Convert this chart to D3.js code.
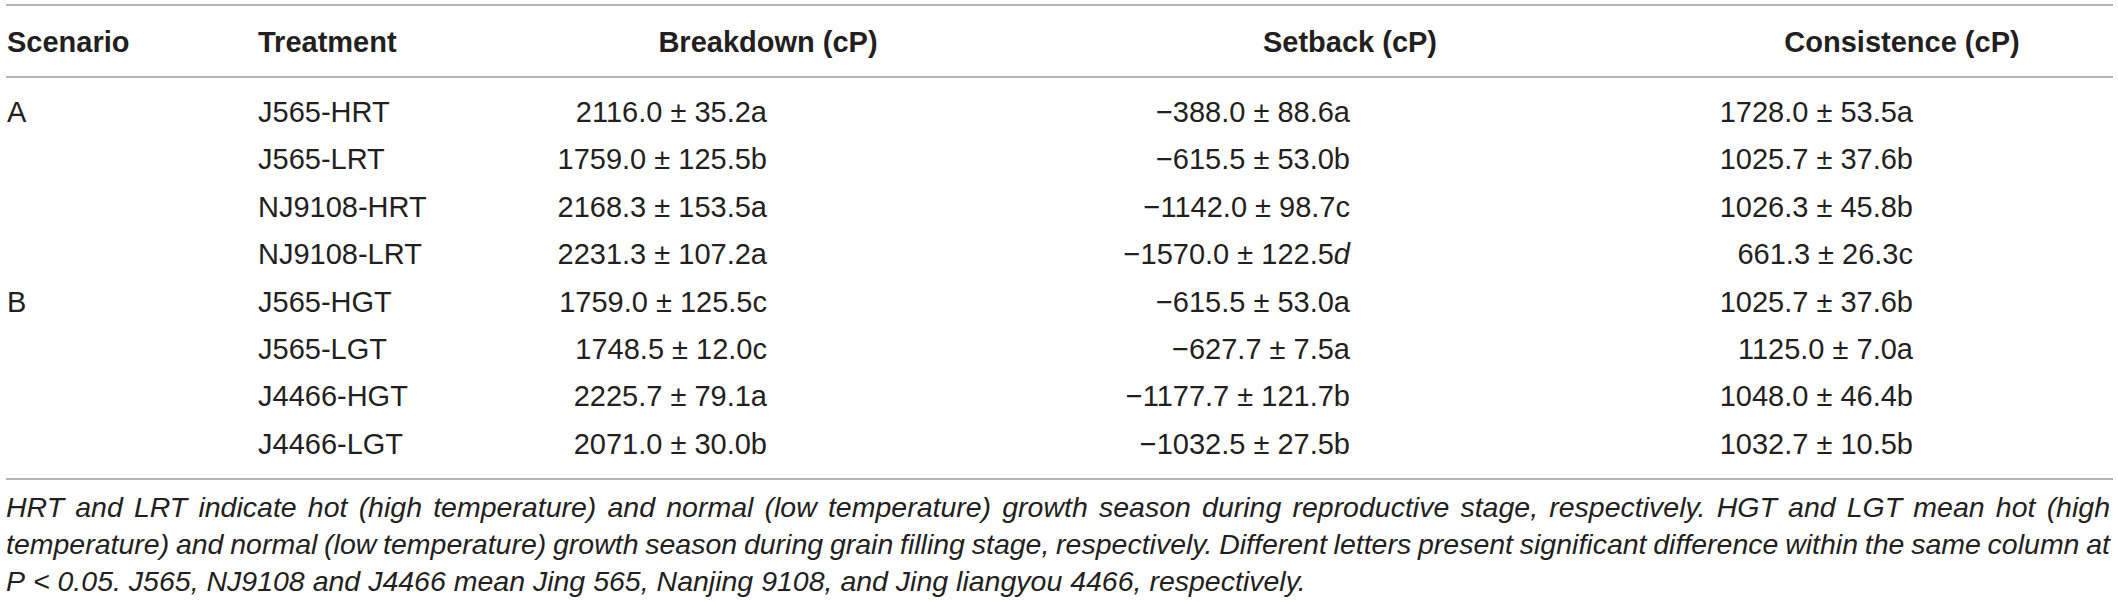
<!DOCTYPE html>
<html>
<head>
<meta charset="utf-8">
<script src="https://cdn.jsdelivr.net/npm/d3@7"></script>
<style>
  html, body { margin: 0; padding: 0; background: #fff; }
  svg { display: block; }
  text { font-family: "Liberation Sans", Arial, Helvetica, sans-serif; fill: #231f20; }
</style>
</head>
<body>
<svg id="chart" width="2118" height="602"></svg>
<script>
// ---------------- DATA ----------------
const columns = ["Scenario", "Treatment", "Breakdown (cP)", "Setback (cP)", "Consistence (cP)"];
const scenarios = ["A", "", "", "", "B", "", "", ""];
const treatments = ["J565-HRT", "J565-LRT", "NJ9108-HRT", "NJ9108-LRT", "J565-HGT", "J565-LGT", "J4466-HGT", "J4466-LGT"];

const breakdownMean   = [2116.0, 1759.0, 2168.3, 2231.3, 1759.0, 1748.5, 2225.7, 2071.0];
const breakdownSD     = [35.2, 125.5, 153.5, 107.2, 125.5, 12.0, 79.1, 30.0];
const breakdownLetter = ["a", "b", "a", "a", "c", "c", "a", "b"];

const setbackMean   = [-388.0, -615.5, -1142.0, -1570.0, -615.5, -627.7, -1177.7, -1032.5];
const setbackSD     = [88.6, 53.0, 98.7, 122.5, 53.0, 7.5, 121.7, 27.5];
const setbackLetter = ["a", "b", "c", "d", "a", "a", "b", "b"];

const consistMean   = [1728.0, 1025.7, 1026.3, 661.3, 1025.7, 1125.0, 1048.0, 1032.7];
const consistSD     = [53.5, 37.6, 45.8, 26.3, 37.6, 7.0, 46.4, 10.5];
const consistLetter = ["a", "b", "b", "c", "b", "a", "b", "b"];

// the one significance letter printed in italics in the source
const italicLetterCells = [{ column: "Setback (cP)", row: 3 }];

const footnoteLines = [
  "HRT and LRT indicate hot (high temperature) and normal (low temperature) growth season during reproductive stage, respectively. HGT and LGT mean hot (high",
  "temperature) and normal (low temperature) growth season during grain filling stage, respectively. Different letters present significant difference within the same column at",
  "P < 0.05. J565, NJ9108 and J4466 mean Jing 565, Nanjing 9108, and Jing liangyou 4466, respectively."
];

// ---------------- LAYOUT ----------------
const W = 2118, H = 602;
const left = 6, right = 2113;
const fontSize = 29;
const svg = d3.select("#chart");

const valueCols = [
  { name: "Breakdown (cP)", mean: breakdownMean, sd: breakdownSD, letter: breakdownLetter },
  { name: "Setback (cP)", mean: setbackMean, sd: setbackSD, letter: setbackLetter },
  { name: "Consistence (cP)", mean: consistMean, sd: consistSD, letter: consistLetter }
];

// x anchors for each column (left edge for text columns, right edge for numeric columns)
const xCol = d3.scaleOrdinal()
  .domain(columns)
  .range([7, 258, 767, 1350, 1913]);
// header anchors (centers for numeric columns)
const xHead = d3.scaleOrdinal()
  .domain(columns)
  .range([7, 258, 768, 1350, 1902]);
const headAnchor = d3.scaleOrdinal().domain(columns).range(["start", "start", "middle", "middle", "middle"]);

// row baselines
const y = d3.scalePoint()
  .domain(d3.range(treatments.length))
  .range([122, 453.8]);

const fmt = d3.format(".1f");

// rules
const rules = [5, 77, 479];
svg.selectAll("line.rule").data(rules).join("line")
  .attr("class", "rule")
  .attr("x1", left).attr("x2", right)
  .attr("y1", d => d).attr("y2", d => d)
  .attr("stroke", "#9a9a9a").attr("stroke-width", 1.6);

// header
svg.selectAll("text.head").data(columns).join("text")
  .attr("class", "head")
  .attr("x", d => xHead(d))
  .attr("y", 52)
  .attr("text-anchor", d => headAnchor(d))
  .attr("font-size", fontSize)
  .attr("font-weight", "bold")
  .text(d => d);

// scenario column
svg.selectAll("text.scen").data(scenarios.map((s, i) => ({ s, i })).filter(d => d.s)).join("text")
  .attr("class", "scen")
  .attr("x", xCol("Scenario"))
  .attr("y", d => y(d.i))
  .attr("font-size", fontSize)
  .text(d => d.s);

// treatment column
svg.selectAll("text.treat").data(treatments).join("text")
  .attr("class", "treat")
  .attr("x", xCol("Treatment"))
  .attr("y", (d, i) => y(i))
  .attr("font-size", fontSize)
  .text(d => d);

// numeric columns
valueCols.forEach(col => {
  const cells = col.mean.map((m, i) => ({ m, sd: col.sd[i], l: col.letter[i], i }));
  const t = svg.selectAll(null).data(cells).join("text")
    .attr("x", xCol(col.name))
    .attr("y", d => y(d.i))
    .attr("text-anchor", "end")
    .attr("font-size", fontSize);
  t.append("tspan").text(d => fmt(d.m) + " \u00b1 " + fmt(d.sd));
  t.append("tspan")
    .attr("font-style", d => italicLetterCells.some(c => c.column === col.name && c.row === d.i) ? "italic" : "normal")
    .text(d => d.l);
});

// footnote (justified lines, last line ragged)
const footSize = 28.5;
const footBase = d3.scalePoint().domain(d3.range(footnoteLines.length)).range([517, 591]);
const measure = svg.append("text")
  .attr("font-size", footSize).attr("font-style", "italic")
  .attr("visibility", "hidden");
function widthOf(s) { measure.text(s); return measure.node().getComputedTextLength(); }
const spaceW = widthOf("a a") - widthOf("aa");

footnoteLines.forEach((line, li) => {
  const words = line.split(" ");
  const widths = words.map(widthOf);
  const total = d3.sum(widths);
  const last = li === footnoteLines.length - 1;
  const gap = last ? spaceW : (right - 3 - left - total) / (words.length - 1);
  let x = left;
  const g = svg.append("text")
    .attr("font-size", footSize)
    .attr("font-style", "italic")
    .attr("y", footBase(li));
  words.forEach((w, wi) => {
    g.append("tspan").attr("x", x).text(w);
    x += widths[wi] + gap;
  });
});
measure.remove();
</script>
</body>
</html>
